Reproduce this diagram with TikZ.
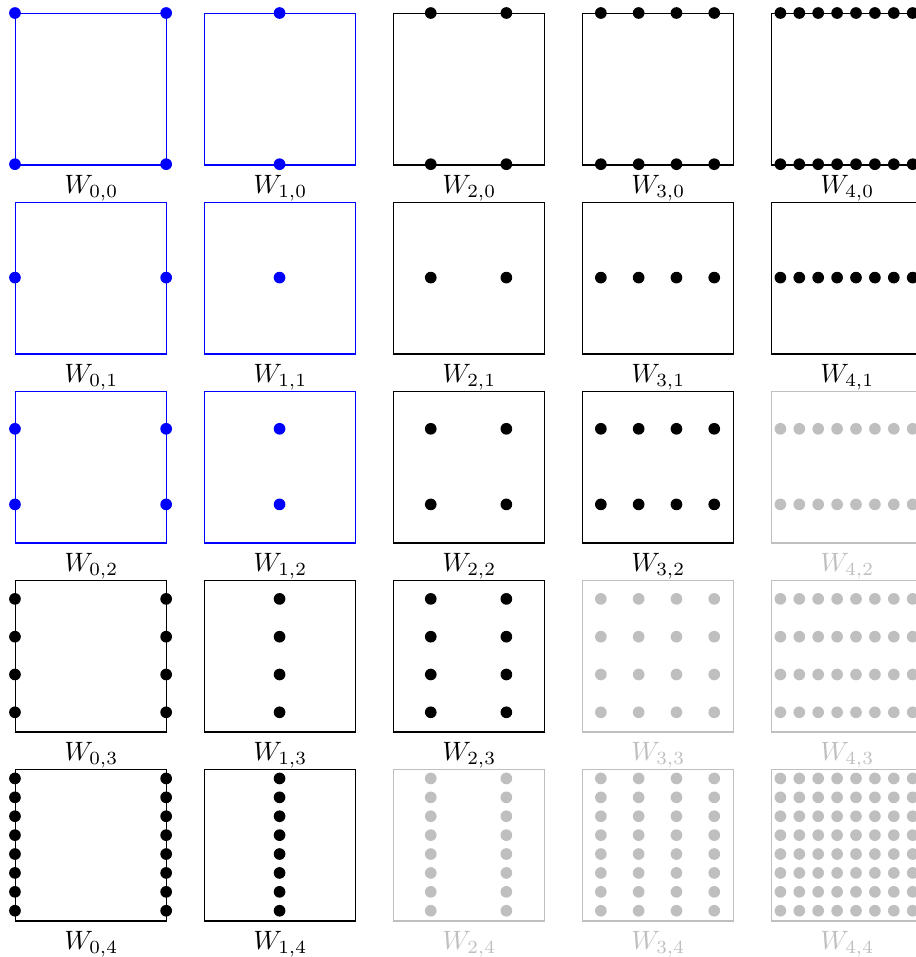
\documentclass[tikz,border=0pt]{standalone}
\usepackage{amsmath}
\usepackage{tikz}
\usetikzlibrary{positioning}

\tikzset{
    cell/.style={draw, rectangle, line width=0.5pt, minimum size=2cm, inner sep=0pt, anchor=north west},
    lbl/.style={inner sep=0.333em}
}

\begin{document}
\begin{tikzpicture}[scale=1]

% Frame
\useasboundingbox (-0.198,0.172) rectangle (11.918,-12.487);

\foreach \i in {0,...,4} {
  \foreach \j in {0,...,4} {
    % Colours of this cell and its label
    \pgfmathtruncatemacro{\s}{\i+\j}
    \def\tcol{black}
    \ifnum\s>5 \def\col{lightgray}\def\tcol{lightgray}\else
      \ifnum\i<2 \ifnum\j<3 \def\col{blue}\else\def\col{black}\fi\else\def\col{black}\fi
    \fi

    % Square
    \node[cell, draw=\col] (W-\i-\j) at (2.5*\i,-2.5*\j) {};

    % Grid points
    \pgfmathtruncatemacro{\nx}{\i==0 ? 2 : 2^(\i-1)}
    \pgfmathtruncatemacro{\ny}{\j==0 ? 2 : 2^(\j-1)}
    \foreach \m in {1,...,\nx} {
      \foreach \n in {1,...,\ny} {
        \pgfmathsetmacro{\x}{\i==0 ? 2*(\m-1) : (2*\m-1)/\nx}
        \pgfmathsetmacro{\y}{\j==0 ? 2*(\n-1) : (2*\n-1)/\ny}
        \fill[\col] (2.5*\i+\x,-2.5*\j-\y) circle (2.2pt);
      }
    }

    % Label
    \node[lbl, text=\tcol, below=0pt of W-\i-\j] (L-\i-\j) {$W_{\i,\j}$};
  }
}

\end{tikzpicture}
\end{document}
